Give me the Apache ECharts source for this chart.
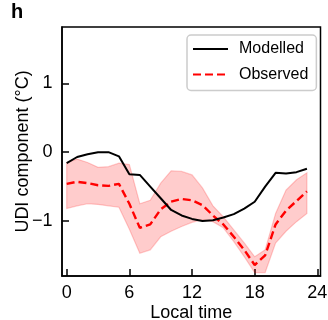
<!DOCTYPE html>
<html>
<head>
<meta charset="utf-8">
<script src="https://cdn.jsdelivr.net/npm/echarts@6/dist/echarts.min.js"></script>
<style>html,body{margin:0;padding:0;background:#fff}#c{width:328px;height:320px}</style>
</head>
<body>
<div id="c"></div>
<script>
const hours = [0,1,2,3,4,5,6,7,8,9,10,11,12,13,14,15,16,17,18,19,20,21,22,23];
const modelled = [-0.16,-0.07,-0.03,0.0,0.0,-0.06,-0.32,-0.33,-0.50,-0.67,-0.84,-0.92,-0.97,-1.0,-0.99,-0.95,-0.90,-0.82,-0.72,-0.50,-0.30,-0.31,-0.29,-0.24];
const observed = [-0.46,-0.43,-0.45,-0.48,-0.49,-0.46,-0.75,-1.10,-1.05,-0.83,-0.72,-0.68,-0.70,-0.77,-0.92,-1.05,-1.23,-1.42,-1.64,-1.50,-1.05,-0.85,-0.71,-0.57];
const obsUpper = [-0.15,-0.10,-0.15,-0.22,-0.21,-0.16,-0.18,-0.75,-0.70,-0.45,-0.27,-0.28,-0.33,-0.52,-0.78,-0.94,-1.13,-1.32,-1.52,-1.42,-0.89,-0.55,-0.40,-0.30];
const obsLower = [-0.82,-0.78,-0.75,-0.76,-0.78,-0.80,-1.12,-1.47,-1.42,-1.23,-1.15,-1.08,-1.02,-0.98,-1.01,-1.10,-1.30,-1.52,-1.75,-1.75,-1.32,-1.15,-1.01,-0.89];
const xTicks = [0,6,12,18,24];
const yTicks = [-1,0,1];
const seriesNames = ['Modelled','Observed'];
const xTitle = 'Local time';
const yTitle = 'UDI component (°C)';
const panelLabel = 'h';

const FONT = 'Liberation Sans';
const chart = echarts.init(document.getElementById('c'), null, {renderer:'canvas'});
const fmt = v => v < 0 ? '\u2212' + Math.abs(v) : String(v);

chart.setOption({
  animation: false,
  backgroundColor: '#fff',
  textStyle: {fontFamily: FONT},
  title: {text: panelLabel, left: 11, top: 2, padding: 0, textStyle: {fontFamily: FONT, fontWeight: 'bold', fontSize: 20, color: '#000'}},
  grid: {left: 62, right: 7.5, top: 27, bottom: 44, outerBoundsMode: 'none', containLabel: false, show: true, borderColor: '#000', borderWidth: 1.5, backgroundColor: 'transparent'},
  legend: {
    data: seriesNames, orient: 'vertical', left: 187, top: 35,
    padding: [6, 8, 8, 5], itemWidth: 35, itemHeight: 14, itemGap: 9.4,
    backgroundColor: '#fff', borderColor: '#ccc', borderWidth: 1.5, borderRadius: 4,
    itemStyle: {opacity: 0},
    textStyle: {fontFamily: FONT, fontSize: 16, color: '#000', padding: [0,0,0,6]}
  },
  xAxis: {
    type: 'value', min: -0.45, max: 24.3,
    name: xTitle, nameLocation: 'middle', nameGap: 28, nameMoveOverlap: false,
    nameTextStyle: {fontFamily: FONT, fontSize: 18, color: '#000'},
    axisLine: {show: true, onZero: false, lineStyle: {color: '#000', width: 1.5}},
    axisTick: {show: true, inside: true, length: 7, customValues: xTicks, lineStyle: {color: '#000', width: 1.5}},
    axisLabel: {customValues: xTicks, margin: 8, fontFamily: FONT, fontSize: 18, color: '#000', formatter: fmt},
    splitLine: {show: false}
  },
  yAxis: {
    type: 'value', min: -1.8, max: 1.82,
    name: yTitle, nameLocation: 'middle', nameGap: 30, nameRotate: 90, nameMoveOverlap: false,
    nameTextStyle: {fontFamily: FONT, fontSize: 18, color: '#000'},
    axisLine: {show: true, onZero: false, lineStyle: {color: '#000', width: 1.5}},
    axisTick: {show: true, inside: true, length: 7, customValues: yTicks, lineStyle: {color: '#000', width: 1.5}},
    axisLabel: {customValues: yTicks, margin: 9.5, fontFamily: FONT, fontSize: 18, color: '#000', formatter: fmt},
    splitLine: {show: false}
  },
  series: [
    {
      name: 'band', type: 'custom', z: 1, silent: true,
      data: hours.map((h, i) => [h, obsLower[i], obsUpper[i]]),
      encode: {x: 0, y: [1, 2]},
      renderItem: function (params, api) {
        if (params.dataIndex !== 0) return null;
        const pts = [];
        for (let i = 0; i < hours.length; i++) pts.push(api.coord([hours[i], obsUpper[i]]));
        for (let i = hours.length - 1; i >= 0; i--) pts.push(api.coord([hours[i], obsLower[i]]));
        return {
          type: 'polygon',
          shape: {points: pts},
          style: {fill: 'rgba(255,0,0,0.2)', stroke: 'rgba(255,0,0,0.2)', lineWidth: 1.2}
        };
      }
    },
    {
      name: seriesNames[1], type: 'line', z: 2, symbol: 'none',
      data: hours.map((h, i) => [h, observed[i]]),
      lineStyle: {color: '#ff0000', width: 2.4, type: [8, 4]},
      itemStyle: {color: '#ff0000'}
    },
    {
      name: seriesNames[0], type: 'line', z: 3, symbol: 'none',
      data: hours.map((h, i) => [h, modelled[i]]),
      lineStyle: {color: '#000', width: 2},
      itemStyle: {color: '#000'}
    }
  ]
});
</script>
</body>
</html>
